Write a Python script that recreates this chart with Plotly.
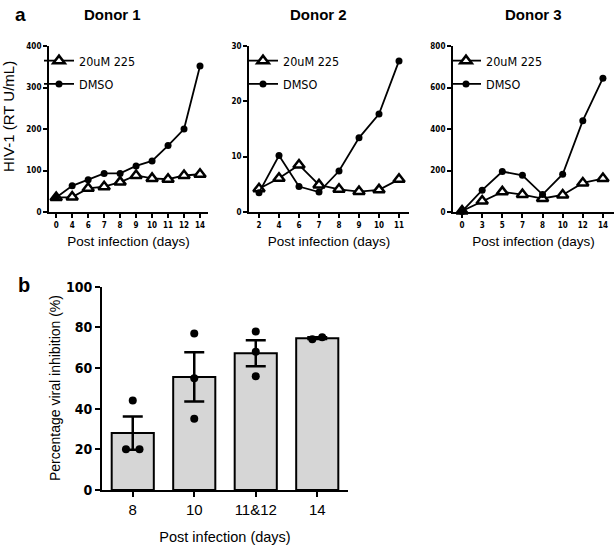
import plotly.graph_objects as go

# ---------------- data ----------------
d1_days = ["0", "4", "6", "7", "8", "9", "10", "11", "12", "14"]
d1_drug = [35, 36, 57, 61, 72, 88, 81, 79, 88, 91]
d1_dmso = [35, 63, 78, 93, 93, 111, 123, 160, 200, 352]

d2_days = ["2", "4", "6", "7", "8", "9", "10", "11"]
d2_drug = [4.2, 6.1, 8.5, 4.9, 4.1, 3.7, 4.0, 5.9]
d2_dmso = [3.5, 10.2, 4.6, 3.6, 7.4, 13.4, 17.7, 27.3]

d3_days = ["0", "3", "5", "7", "8", "10", "12", "14"]
d3_drug = [5, 53, 97, 84, 65, 82, 140, 161]
d3_dmso = [3, 105, 195, 177, 84, 182, 440, 645]

bar_days = ["8", "10", "11&12", "14"]
bar_mean = [28.0, 55.6, 67.3, 74.7]
bar_sem = [8.2, 12.1, 6.4, 0.4]
pt_group = [0, 0, 0, 1, 1, 1, 2, 2, 2, 3, 3]
pt_jitter = [-0.11, 0, 0.11, 0, 0, 0, 0, 0, 0, -0.08, 0.08]
pt_value = [20, 44, 20, 77, 55, 35, 78, 68, 56, 74.2, 75.1]

W, H = 615, 545
def px(x):
    return x / W
def py(y):
    return 1 - y / H

NARROW = "DejaVu Sans Condensed, Liberation Sans, sans-serif"
SANS = "Liberation Sans, Arial, sans-serif"

fig = go.Figure()

panels = [
    (d1_days, d1_drug, d1_dmso, "x", "y", "legend"),
    (d2_days, d2_drug, d2_dmso, "x2", "y2", "legend2"),
    (d3_days, d3_drug, d3_dmso, "x3", "y3", "legend3"),
]
for days, drug, dmso, xa, ya, lg in panels:
    fig.add_trace(go.Scatter(
        x=days, y=drug, name="20uM 225", mode="lines+markers",
        xaxis=xa, yaxis=ya, legend=lg, legendgroup="a" + lg,
        line=dict(color="black", width=1.8),
        marker=dict(symbol="triangle-up", size=10, color="white",
                    line=dict(color="black", width=2.5)),
        cliponaxis=False))
    fig.add_trace(go.Scatter(
        x=days, y=dmso, name="DMSO", mode="lines+markers",
        xaxis=xa, yaxis=ya, legend=lg, legendgroup="b" + lg,
        line=dict(color="black", width=1.8),
        marker=dict(symbol="circle", size=7, color="black"),
        cliponaxis=False))

# bar panel
fig.add_trace(go.Bar(
    x=list(range(len(bar_days))), y=bar_mean, xaxis="x4", yaxis="y4",
    width=0.685, showlegend=False,
    marker=dict(color="#d6d6d6", line=dict(color="black", width=2)),
    error_y=dict(type="data", array=bar_sem, visible=True,
                 color="black", thickness=2.5, width=10)))
fig.add_trace(go.Scatter(
    x=[g + j for g, j in zip(pt_group, pt_jitter)], y=pt_value,
    xaxis="x4", yaxis="y4", mode="markers", showlegend=False,
    marker=dict(color="black", size=8), cliponaxis=False))

top_y = [py(212), py(46)]
axis_common = dict(showline=True, linecolor="black", linewidth=2,
                   ticks="outside", tickcolor="black", tickwidth=1.5,
                   ticklen=4, showgrid=False, zeroline=False, automargin=False,
                   tickfont=dict(family=NARROW, size=8, color="black",
                                 weight="bold"))
title_font = dict(family=SANS, size=13.5, color="black")

fig.update_layout(
    width=W, height=H, autosize=False,
    margin=dict(l=0, r=0, t=0, b=0, pad=0, autoexpand=False),
    paper_bgcolor="white", plot_bgcolor="white",
    xaxis=dict(domain=[px(49), px(208)], anchor="y", type="category",
               range=[-0.45, 9.5],
               title=dict(text="Post infection (days)", font=title_font, standoff=8),
               **axis_common),
    yaxis=dict(domain=top_y, anchor="x", range=[0, 400],
               tickvals=[0, 100, 200, 300, 400], **axis_common),
    xaxis2=dict(domain=[px(249), px(409)], anchor="y2", type="category",
                range=[-0.5, 7.5],
                title=dict(text="Post infection (days)", font=title_font, standoff=8),
                **axis_common),
    yaxis2=dict(domain=top_y, anchor="x2", range=[0, 30],
                tickvals=[0, 10, 20, 30], **axis_common),
    xaxis3=dict(domain=[px(453), px(614)], anchor="y3", type="category",
                range=[-0.45, 7.55],
                title=dict(text="Post infection (days)", font=title_font, standoff=8),
                **axis_common),
    yaxis3=dict(domain=top_y, anchor="x3", range=[0, 800],
                tickvals=[0, 200, 400, 600, 800], **axis_common),
    xaxis4=dict(domain=[px(102), px(348)], anchor="y4", range=[-0.5, 3.5],
                tickvals=list(range(len(bar_days))), ticktext=bar_days,
                showline=True, linecolor="black", linewidth=2,
                ticks="outside", tickcolor="black", tickwidth=2, ticklen=5,
                showgrid=False, zeroline=False, automargin=False,
                tickfont=dict(family=SANS, size=15, color="black"),
                title=dict(text="Post infection (days)",
                           font=dict(family=SANS, size=14.5, color="black"),
                           standoff=16)),
    yaxis4=dict(domain=[py(490), py(286.7)], anchor="x4", range=[0, 100],
                tickvals=[0, 20, 40, 60, 80, 100],
                showline=True, linecolor="black", linewidth=2,
                ticks="outside", tickcolor="black", tickwidth=2, ticklen=5,
                showgrid=False, zeroline=False, automargin=False,
                tickfont=dict(family=NARROW, size=14, color="black", weight="bold")),
)

leg_common = dict(xanchor="left", yanchor="top", bgcolor="rgba(0,0,0,0)",
                  traceorder="grouped", tracegroupgap=4,
                  font=dict(family=NARROW, size=12.5, color="black"))
fig.update_layout(
    legend=dict(x=px(39), y=py(46), **leg_common),
    legend2=dict(x=px(243), y=py(46), **leg_common),
    legend3=dict(x=px(446), y=py(46), **leg_common),
)

ann = [
    dict(text="<b>a</b>", x=px(20), y=py(14), size=19),
    dict(text="<b>b</b>", x=px(24), y=py(285), size=20),
    dict(text="<b>Donor 1</b>", x=px(112), y=py(14), size=15),
    dict(text="<b>Donor 2</b>", x=px(318), y=py(14), size=15),
    dict(text="<b>Donor 3</b>", x=px(533), y=py(14), size=15),
]
for a in ann:
    fig.add_annotation(text=a["text"], x=a["x"], y=a["y"], xref="paper",
                       yref="paper", showarrow=False, xanchor="center",
                       yanchor="middle",
                       font=dict(family=SANS, size=a["size"], color="black"))
fig.add_annotation(text="HIV-1 (RT U/mL)", x=px(9), y=py(117), xref="paper",
                   yref="paper", showarrow=False, textangle=-90,
                   xanchor="center", yanchor="middle",
                   font=dict(family=SANS, size=15, color="black"))
fig.add_annotation(text="Percentage viral inhibition (%)", x=px(55), y=py(388),
                   xref="paper", yref="paper", showarrow=False, textangle=-90,
                   xanchor="center", yanchor="middle",
                   font=dict(family=SANS, size=14, color="black"))

fig.write_html("out.html", config={"displayModeBar": False},
               post_script="document.body.style.margin='0';"
                           "document.body.style.overflow='hidden';")
